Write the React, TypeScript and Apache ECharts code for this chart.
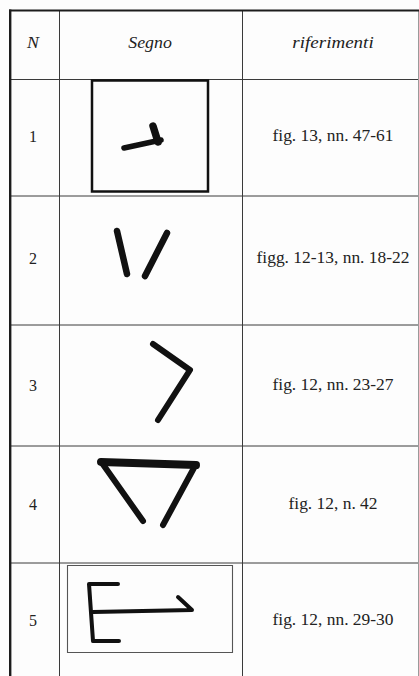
import React, { useEffect, useRef } from "react";
import * as echarts from "echarts";

// ---- table content ----
const headers: string[] = ["N", "Segno", "riferimenti"];
const rowNumbers: string[] = ["1", "2", "3", "4", "5"];
const references: string[] = [
  "fig. 13, nn. 47-61",
  "figg. 12-13, nn. 18-22",
  "fig. 12, nn. 23-27",
  "fig. 12, n. 42",
  "fig. 12, nn. 29-30",
];

// ---- layout ----
const W = 419;
const H = 676;
const colLines = [59.5, 242.5];
const rowLines = [79.5, 196, 325, 446, 563];
const headerY = 42;
const rowCenters = [136, 258, 385, 504, 620];
const numX = 33;
const segnoX = 150;
const refX = 333;

const INK = "#111111";
const TEXT = "#222222";
const LINE = "#3a3a3a";
const SERIF = "Liberation Serif";

type Pt = [number, number];
type Stroke = { pts: Pt[]; w: number };

// hand-drawn signs (drawing shapes, in page pixels)
const signs: Stroke[][] = [
  [
    { pts: [[124, 148], [161, 140]], w: 5.5 },
    { pts: [[153, 126], [158, 142]], w: 7.5 },
  ],
  [
    { pts: [[117, 231], [127, 274]], w: 6.5 },
    { pts: [[167, 233], [145, 276]], w: 6.5 },
  ],
  [
    { pts: [[153, 344], [190, 370], [158, 420]], w: 6 },
  ],
  [
    { pts: [[101, 462], [196, 465]], w: 8 },
    { pts: [[102, 463], [143, 521]], w: 6 },
    { pts: [[195, 466], [163, 525]], w: 6 },
  ],
  [
    { pts: [[118, 584], [89, 584], [93, 641], [119, 641]], w: 4 },
    { pts: [[93, 612], [192, 610], [178, 597]], w: 4 },
  ],
];

function textEl(text: string, x: number, y: number, size: number, italic: boolean, sx: number) {
  return {
    type: "text",
    x,
    y,
    scaleX: sx,
    style: {
      text,
      fill: TEXT,
      fontSize: size,
      fontFamily: SERIF,
      fontStyle: italic ? "italic" : "normal",
      align: "center",
      verticalAlign: "middle",
      textAlign: "center",
      textVerticalAlign: "middle",
    },
  };
}

function line(x1: number, y1: number, x2: number, y2: number, w: number, c: string) {
  return {
    type: "line",
    shape: { x1, y1, x2, y2 },
    style: { stroke: c, lineWidth: w },
  };
}

export default function App() {
  const ref = useRef<HTMLDivElement>(null);

  useEffect(() => {
    document.body.style.margin = "0";
    document.body.style.background = "#ffffff";
    if (!ref.current) return;
    const chart = echarts.init(ref.current, undefined, { renderer: "svg" });

    const elements: any[] = [];
    elements.push({ type: "rect", shape: { x: 0, y: 0, width: W, height: H }, style: { fill: "#fdfdfd" } });

    // grid lines
    for (const x of colLines) elements.push(line(x, 10, x, H, 1, LINE));
    for (const y of rowLines) elements.push(line(10, y, W, y, 1, LINE));
    elements.push(line(418.5, 10, 418.5, H, 1, "#9a9a9a"));
    // outer thick borders
    elements.push(line(9, 10.5, W, 10.5, 2.2, "#1c1c1c"));
    elements.push(line(10.2, 9.5, 10.2, H, 2.4, "#1c1c1c"));

    // frame boxes around signs 1 and 5
    elements.push({
      type: "rect",
      shape: { x: 92, y: 80.5, width: 116, height: 111 },
      style: { fill: "none", stroke: INK, lineWidth: 2.5 },
    });
    elements.push({
      type: "rect",
      shape: { x: 67.5, y: 565.5, width: 165, height: 87 },
      style: { fill: "none", stroke: "#555", lineWidth: 1.1 },
    });

    // headers
    elements.push(textEl(headers[0], numX, headerY, 17, true, 1.05));
    elements.push(textEl(headers[1], segnoX, headerY, 17, true, 1.05));
    elements.push(textEl(headers[2], refX, headerY, 17, true, 1.12));

    // rows
    rowNumbers.forEach((n, i) => {
      elements.push(textEl(n, numX, rowCenters[i], 16, false, 1.0));
      elements.push(textEl(references[i], refX, rowCenters[i], 16, false, 1.09));
    });

    // signs
    signs.forEach((strokes) => {
      strokes.forEach((s) => {
        elements.push({
          type: "polyline",
          shape: { points: s.pts },
          style: { stroke: INK, lineWidth: s.w, lineCap: "round", lineJoin: "round", fill: "none" },
        });
      });
    });

    chart.setOption({
      animation: false,
      backgroundColor: "#ffffff",
      graphic: { elements },
    });

    return () => chart.dispose();
  }, []);

  return <div ref={ref} style={{ width: W, height: H }} />;
}
